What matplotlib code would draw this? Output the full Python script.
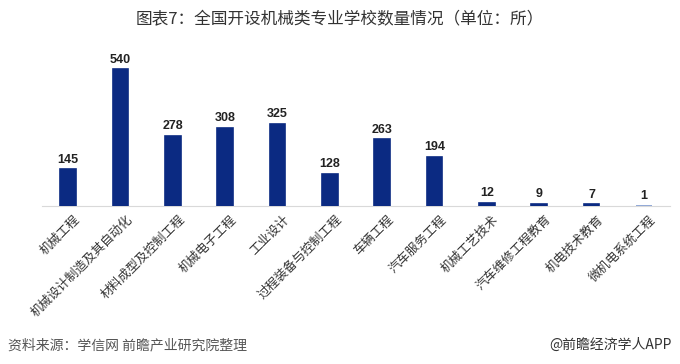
import matplotlib
matplotlib.use("Agg")
import matplotlib.pyplot as plt
import matplotlib.transforms as mtrans

plt.rcParams['font.family'] = ['Noto Sans CJK SC', 'DejaVu Sans']

categories = ["机械工程", "机械设计制造及其自动化", "材料成型及控制工程", "机械电子工程",
              "工业设计", "过程装备与控制工程", "车辆工程", "汽车服务工程",
              "机械工艺技术", "汽车维修工程教育", "机电技术教育", "微机电系统工程"]
values = [145, 540, 278, 308, 325, 128, 263, 194, 12, 9, 7, 1]
colors = ["#0b2a82"] * 11 + ["#7f9ad0"]

fig = plt.figure(figsize=(6.8, 3.64), dpi=100)
ax = fig.add_axes([42/680, (364-206)/364, 628/680, 152/364])

x = list(range(len(categories)))
ax.bar(x, values, width=0.3, color=colors, edgecolor=colors, linewidth=1.2, zorder=3)
ax.set_xlim(-0.5, len(categories) - 0.5)
ax.set_ylim(0, 600)

for xi, v in zip(x, values):
    ax.text(xi, v + 14, str(v), ha='center', va='bottom', fontsize=9,
            fontweight='bold', color='#222222', family=['Liberation Sans'])

for s in ['top', 'right', 'left']:
    ax.spines[s].set_visible(False)
ax.spines['bottom'].set_color('#d9d9d9')
ax.spines['bottom'].set_zorder(1)
ax.set_yticks([])
ax.set_xticks(x)
ax.set_xticklabels(categories, rotation=45, ha='right', rotation_mode='anchor',
                   fontsize=9, color='#333333')
ax.tick_params(axis='x', length=0, pad=5)
offset = mtrans.ScaledTranslation(5/100, 0, fig.dpi_scale_trans)
for lbl in ax.get_xticklabels():
    lbl.set_transform(lbl.get_transform() + offset)

fig.text(0.5, 1 - 20/364, "图表7：全国开设机械类专业学校数量情况（单位：所）", ha='center',
         va='center', fontsize=12, color='#333333')
fig.text(8/680, 1 - 345/364, "资料来源：学信网 前瞻产业研究院整理", ha='left', va='center',
         fontsize=10, color='#555555', style='italic')
fig.text(672/680, 1 - 345/364, "@前瞻经济学人APP", ha='right', va='center',
         fontsize=10, color='#333333')

fig.savefig("out.png", dpi=100)
